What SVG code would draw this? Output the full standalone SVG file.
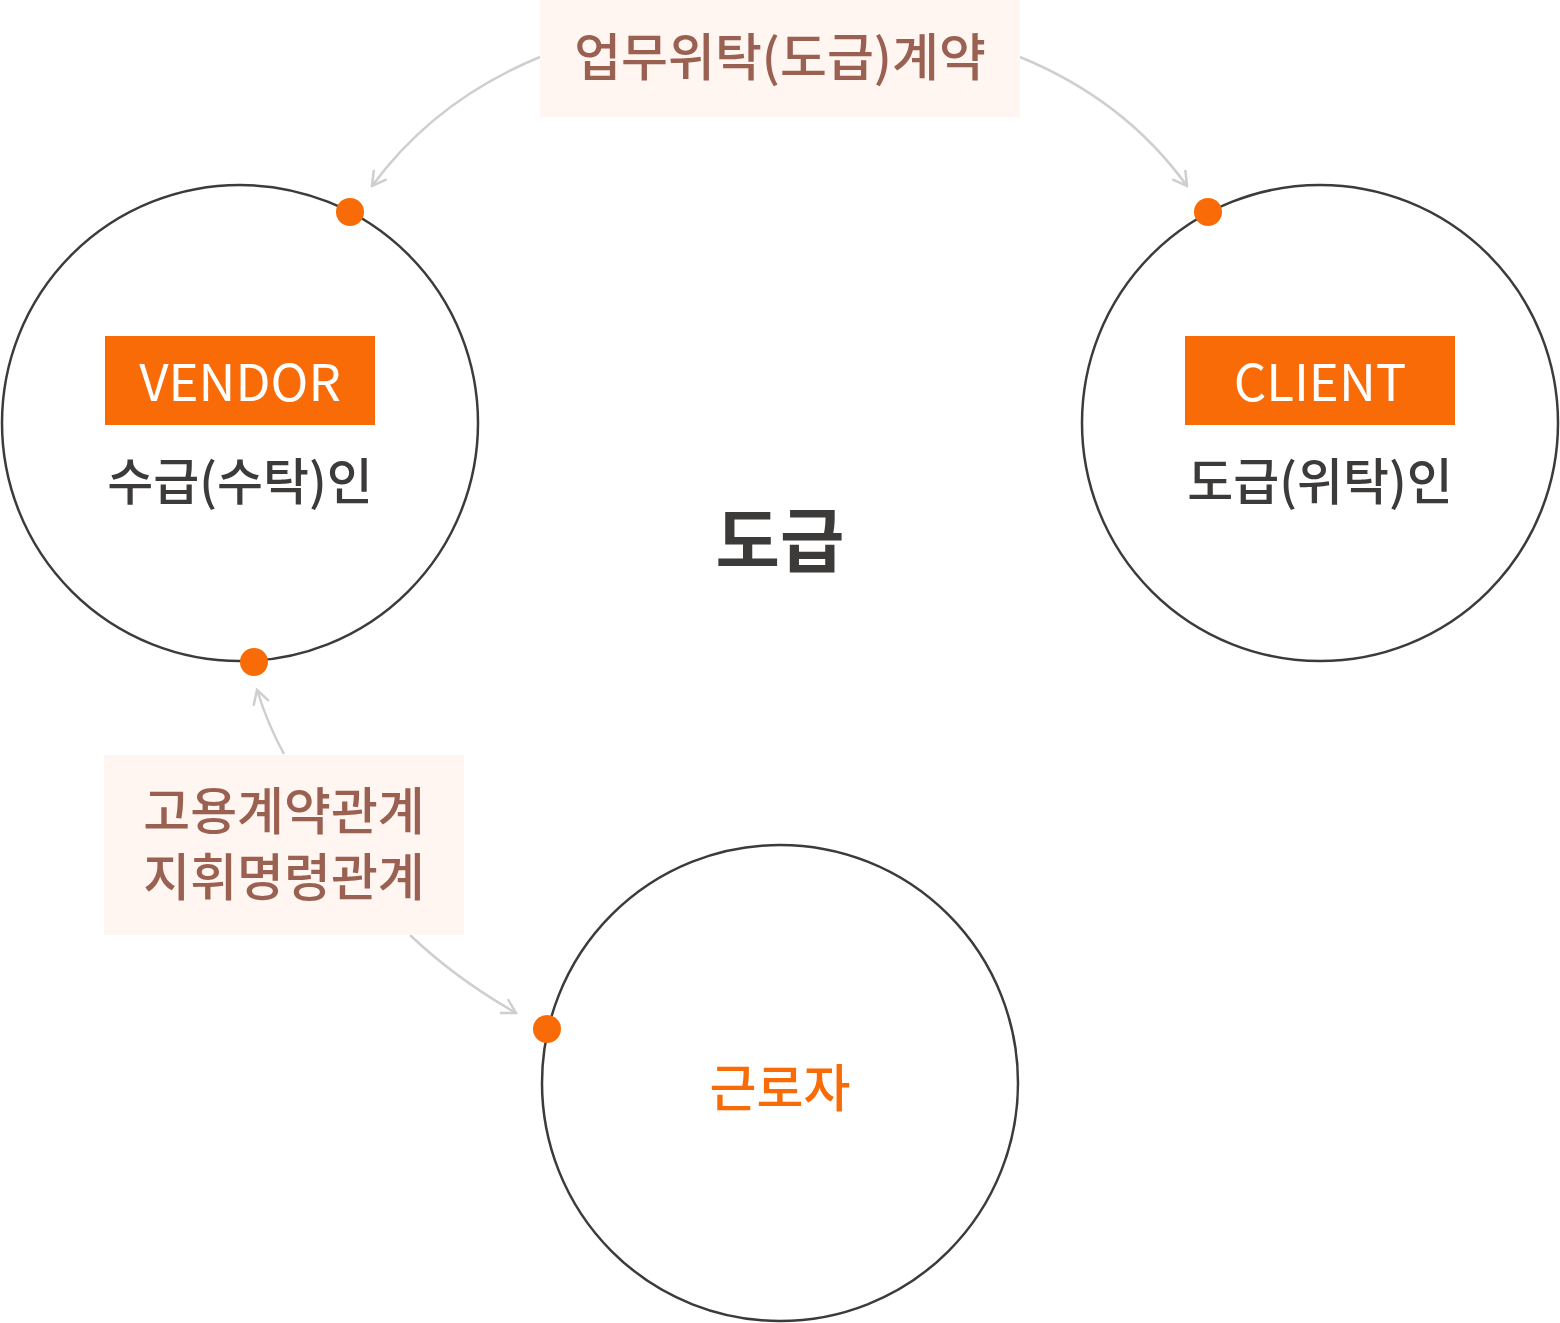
<svg xmlns="http://www.w3.org/2000/svg" width="1560" height="1323" viewBox="0 0 1560 1323">
<style>
.ring{fill:#fff;stroke:#3d3a3a;stroke-width:2.5}
.dot{fill:#f96b07}
.tag{fill:#f96b07}
.tagt{font-family:"Noto Sans CJK KR","Noto Sans",sans-serif;font-size:51px;fill:#fff;text-anchor:middle}
.sub{font-family:"Noto Sans CJK KR",sans-serif;font-size:50px;font-weight:500;fill:#3d3a3a;text-anchor:middle}
.lbox{fill:#fff6f1}
.lt{font-family:"Noto Sans CJK KR",sans-serif;font-size:51px;font-weight:500;fill:#9a6152;text-anchor:middle}
.conn{fill:none;stroke:#cfcfcf;stroke-width:2.5}
</style>
<defs>
<marker id="arr" viewBox="0 0 20 20" refX="18" refY="10" markerWidth="20" markerHeight="20" markerUnits="userSpaceOnUse" orient="auto">
<path d="M4,2 L18,10 L4,18" fill="none" stroke="#cfcfcf" stroke-width="2.5"/>
</marker>
</defs>
<g id="connectors">
<path class="conn" d="M540,57 Q435,100 372,186" marker-end="url(#arr)"/>
<path class="conn" d="M1020,57 Q1125,100 1187,186" marker-end="url(#arr)"/>
<path class="conn" d="M284,754 Q268,725 257,690" marker-end="url(#arr)"/>
<path class="conn" d="M410,935 Q455,978 516,1013" marker-end="url(#arr)"/>
</g>
<g id="vendor">
<circle class="ring" cx="240" cy="423" r="238"/>
<rect class="tag" x="105" y="336" width="270" height="89"/>
<text class="tagt" x="240" y="401">VENDOR</text>
<text class="sub" x="240" y="500">수급(수탁)인</text>
<circle class="dot" cx="350" cy="212" r="14"/>
<circle class="dot" cx="254" cy="662" r="14"/>
</g>
<g id="client">
<circle class="ring" cx="1320" cy="423" r="238"/>
<rect class="tag" x="1185" y="336" width="270" height="89"/>
<text class="tagt" x="1320" y="401">CLIENT</text>
<text class="sub" x="1320" y="500">도급(위탁)인</text>
<circle class="dot" cx="1208" cy="212" r="14"/>
</g>
<g id="worker">
<circle class="ring" cx="780" cy="1083" r="238"/>
<text class="sub" x="780" y="1107" style="fill:#f96b07;font-size:51px">근로자</text>
<circle class="dot" cx="547" cy="1029" r="14"/>
</g>
<g id="center-label">
<text x="780" y="567" font-family="'Noto Sans CJK KR',sans-serif" font-size="70" font-weight="700" fill="#3d3a3a" text-anchor="middle">도급</text>
</g>
<g id="contract-label">
<rect class="lbox" x="540" y="0" width="480" height="117"/>
<text class="lt" x="780" y="76">업무위탁(도급)계약</text>
</g>
<g id="employment-label">
<rect class="lbox" x="104" y="755" width="360" height="180"/>
<text class="lt" x="284" y="830">고용계약관계</text>
<text class="lt" x="284" y="896">지휘명령관계</text>
</g>
</svg>
